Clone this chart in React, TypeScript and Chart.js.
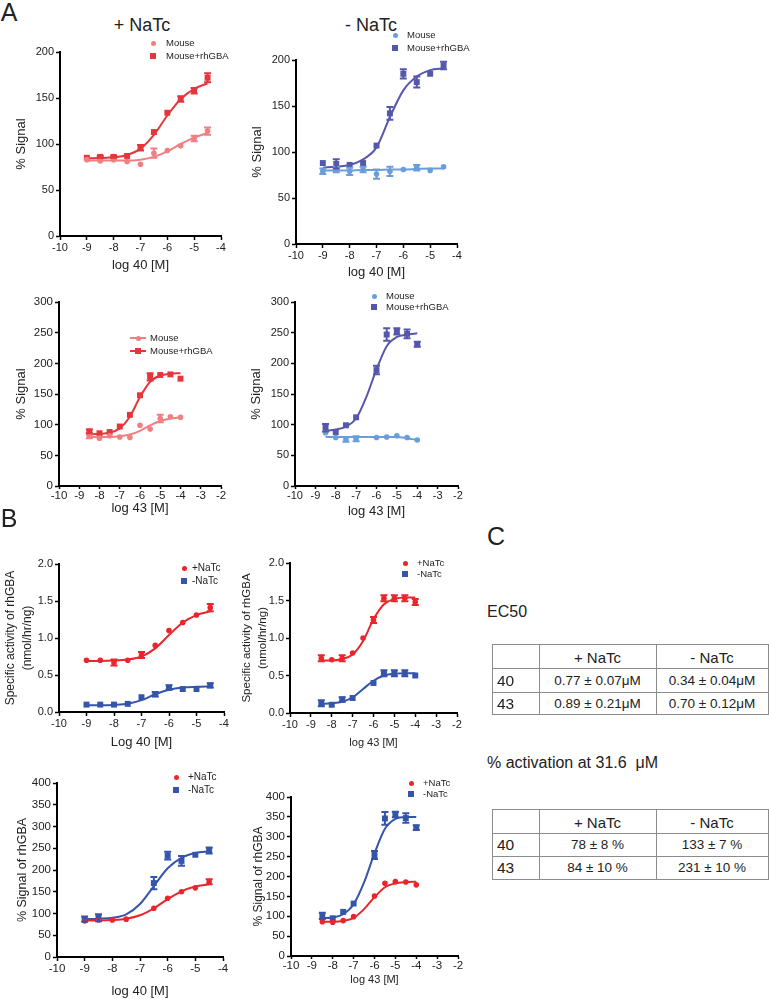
import React, { useEffect, useRef } from 'react';
import { Chart, registerables } from 'chart.js';

Chart.register(...registerables);

const FONT = '"Liberation Sans", Arial, Helvetica, sans-serif';
const TEXT = '#222';

// ---------- x values (log concentration) ----------
const X40 = [-9, -8.5, -8, -7.5, -7, -6.5, -6, -5.5, -5, -4.5];
const X43 = [-8.5, -8, -7.5, -7, -6.5, -6, -5.5, -5, -4.5, -4];

// ---------- Panel A, compound 40, + NaTc ----------
const a1MouseY = [83, 81.5, 83, 81, 78, 90, 93, 98, 106, 114];
const a1MouseErr = [0, 0, 0, 0, 0, 5, 0, 0, 3, 4];
const a1MouseFit = [82, 82, 82, 82, 83, 86, 92, 100, 107, 112];
const a1RhY = [85, 86, 86, 87, 96, 113, 134, 149, 158, 172];
const a1RhErr = [0, 1, 1, 0, 3, 0, 0, 3, 3, 5];
const a1RhFit = [84.5, 84.8, 85.5, 88, 95, 110, 131, 149, 160, 166];

// ---------- Panel A, compound 40, - NaTc ----------
const a2MouseY = [79, 81, 79, 81, 76, 79, 81, 83, 80, 84];
const a2MouseErr = [3, 3, 4, 3, 5, 5, 0, 3, 0, 0];
const a2MouseFit = [80, 80, 80, 80.5, 80.5, 81, 81, 81.5, 82, 82];
const a2RhY = [88, 87, 86, 88, 107, 142, 185, 176, 185, 194];
const a2RhErr = [0, 5, 0, 0, 0, 7, 5, 6, 0, 4];
const a2RhFit = [83, 84, 86, 92, 105, 138, 167, 182, 189, 191];

// ---------- Panel A, compound 43, + NaTc ----------
const a3MouseY = [81, 78, 82, 80, 79, 99, 93, 110, 113, 112];
const a3MouseErr = [3, 0, 0, 0, 0, 0, 0, 6, 0, 0];
const a3MouseFit = [80, 80, 80, 81, 84, 90, 99, 106, 110, 112];
const a3RhY = [89, 86, 88, 97, 116, 148, 178, 181, 182, 175];
const a3RhErr = [3, 0, 0, 0, 0, 0, 6, 0, 0, 0];
const a3RhFit = [84, 85, 87, 94, 113, 145, 170, 180, 183, 184];

// ---------- Panel A, compound 43, - NaTc ----------
const a4MouseY = [87, 79, 76, 77, null, 79, 80, 82, 79, 75];
const a4MouseErr = [0, 0, 4, 4, 0, 0, 0, 0, 0, 0];
const a4MouseFit = [80, 80, 80, 80, 80, 80, 80, 80, 78, 75];
const a4RhY = [95, 88, 99, 112, null, 189, 247, 252, 248, 231];
const a4RhErr = [6, 0, 0, 0, 0, 7, 10, 5, 7, 4];
const a4RhFit = [90, 92, 97, 110, 145, 190, 228, 243, 247, 249];

// ---------- Panel B, specific activity, compound 40 ----------
const b1PlusY = [0.7, 0.7, 0.67, 0.7, 0.77, 0.9, 1.1, 1.21, 1.31, 1.41];
const b1PlusErr = [0, 0, 0.04, 0, 0.04, 0, 0, 0, 0, 0.05];
const b1PlusFit = [0.69, 0.69, 0.695, 0.71, 0.75, 0.86, 1.04, 1.21, 1.31, 1.36];
const b1MinusY = [0.1, 0.1, 0.1, 0.11, 0.2, 0.24, 0.33, 0.31, 0.31, 0.36];
const b1MinusErr = [0, 0, 0, 0, 0, 0.03, 0.03, 0, 0, 0.03];
const b1MinusFit = [0.09, 0.09, 0.095, 0.11, 0.16, 0.24, 0.3, 0.33, 0.34, 0.345];

// ---------- Panel B, specific activity, compound 43 ----------
const b2PlusY = [0.73, 0.71, 0.73, 0.8, 1.0, 1.24, 1.53, 1.53, 1.53, 1.48];
const b2PlusErr = [0.04, 0, 0.04, 0, 0, 0.04, 0.04, 0.04, 0.04, 0.04];
const b2PlusFit = [0.7, 0.7, 0.72, 0.78, 0.96, 1.25, 1.45, 1.52, 1.54, 1.54];
const b2MinusY = [0.13, 0.11, 0.18, 0.2, null, 0.4, 0.53, 0.53, 0.53, 0.5];
const b2MinusErr = [0.04, 0, 0.03, 0, 0, 0, 0.04, 0.04, 0.04, 0];
const b2MinusFit = [0.12, 0.13, 0.15, 0.21, 0.32, 0.43, 0.5, 0.525, 0.53, 0.53];

// ---------- Panel B, % signal, compound 40 ----------
const b3PlusY = [83, 85, 85, 87, null, 112, 135, 150, 159, 173];
const b3PlusErr = [0, 0, 0, 0, 0, 0, 0, 0, 0, 6];
const b3PlusFit = [84, 84, 85, 88, 96, 112, 133, 151, 162, 167];
const b3MinusY = [87, 90, null, null, null, 170, 233, 221, 235, 245];
const b3MinusErr = [6, 8, 0, 0, 0, 14, 9, 11, 0, 7];
const b3MinusFit = [87, 88, 90, 98, 122, 163, 204, 228, 239, 243];

// ---------- Panel B, % signal, compound 43 ----------
const b4PlusY = [86, 85, 89, 99, null, 151, 183, 187, 186, 179];
const b4PlusErr = [0, 0, 0, 0, 0, 0, 0, 0, 0, 0];
const b4PlusFit = [86, 86, 88, 96, 118, 148, 173, 183, 186, 187];
const b4MinusY = [101, 95, 111, 132, null, 254, 346, 356, 347, 323];
const b4MinusErr = [8, 0, 0, 0, 0, 10, 16, 7, 12, 6];
const b4MinusFit = [95, 97, 105, 130, 185, 258, 320, 345, 350, 350];

// ---------- Panel C tables ----------
const tableHeader = ['', '+ NaTc', '- NaTc'];
const ec50Rows = [
  ['40', '0.77 ± 0.07μM', '0.34 ± 0.04μM'],
  ['43', '0.89 ± 0.21μM', '0.70 ± 0.12μM'],
];
const activationRows = [
  ['40', '78 ± 8 %', '133 ± 7 %'],
  ['43', '84 ± 10 %', '231 ± 10 %'],
];

// ---------- colours ----------
const C_PINK = '#f07f82';
const C_RED_A = '#e5363d';
const C_LBLUE = '#6a9ddb';
const C_PURPLE = '#5557aa';
const C_RED = '#e8262c';
const C_BLUE = '#3555ab';

type Series = {
  label: string;
  color: string;
  shape: 'circle' | 'rect';
  xs: number[];
  ys: (number | null)[];
  errs: number[];
  fit: number[];
};

type PanelCfg = {
  plot: [number, number, number, number];
  xMax: number;
  yMax: number;
  yStep: number;
  yDec: number;
  yTitle: string | string[];
  yTitleX: number;
  yTitleSize: number;
  yTitleLh?: number;
  xTitle: string;
  xTitleY: number;
  xTitleSize: number;
  tickSize: number;
  xTickLen?: number;
  xTickPad?: number;
  series: Series[];
};

const errorBarPlugin = {
  id: 'errorBars',
  afterDatasetsDraw(chart: any) {
    const ctx = chart.ctx;
    const ys = chart.scales.y;
    chart.data.datasets.forEach((ds: any, i: number) => {
      if (!ds.isPoints) return;
      const meta = chart.getDatasetMeta(i);
      ds.data.forEach((p: any, j: number) => {
        if (!p.e) return;
        const el = meta.data[j];
        if (!el) return;
        const x = el.x;
        const t = ys.getPixelForValue(p.y + p.e);
        const b = ys.getPixelForValue(p.y - p.e);
        ctx.save();
        ctx.strokeStyle = ds.backgroundColor;
        ctx.lineWidth = 2;
        ctx.beginPath();
        ctx.moveTo(x, t);
        ctx.lineTo(x, b);
        ctx.moveTo(x - 3.5, t);
        ctx.lineTo(x + 3.5, t);
        ctx.moveTo(x - 3.5, b);
        ctx.lineTo(x + 3.5, b);
        ctx.stroke();
        ctx.restore();
      });
    });
  },
};

function ChartPanel({ cfg }: { cfg: PanelCfg }) {
  const ref = useRef<HTMLCanvasElement>(null);
  const [pl, pt, pr, pb] = cfg.plot;
  const yLh = cfg.yTitleSize * (cfg.yTitleLh ?? 1.2);
  const left = Math.round(cfg.yTitleX - yLh / 2);
  const padTop = 12;
  const padRight = 16;
  const top = pt - padTop;
  const xLh = cfg.xTitleSize * 1.2;
  const xAxisH = Math.round(cfg.xTitleY + xLh / 2 - pb);
  const yAxisW = pl - left;
  const W = pr + padRight - left;
  const H = pb + xAxisH - top;

  useEffect(() => {
    if (!ref.current) return;
    const datasets: any[] = [];
    cfg.series.forEach((s) => {
      datasets.push({
        type: 'line',
        data: s.xs.map((x, i) => ({ x, y: s.fit[i] })),
        borderColor: s.color,
        backgroundColor: s.color,
        borderWidth: 2,
        pointRadius: 0,
        fill: false,
        cubicInterpolationMode: 'monotone',
        order: 2,
      });
    });
    cfg.series.forEach((s) => {
      const pts = s.xs
        .map((x, i) => ({ x, y: s.ys[i], e: s.errs[i] }))
        .filter((p) => p.y !== null && p.y !== undefined);
      datasets.push({
        type: 'scatter',
        isPoints: true,
        data: pts,
        backgroundColor: s.color,
        borderColor: s.color,
        borderWidth: 0,
        pointStyle: s.shape,
        pointRadius: s.shape === 'rect' ? 4.2 : 2.8,
        showLine: false,
        order: 1,
      });
    });
    const chart = new Chart(ref.current, {
      type: 'scatter',
      data: { datasets },
      plugins: [errorBarPlugin],
      options: {
        animation: false,
        responsive: false,
        maintainAspectRatio: false,
        events: [],
        layout: { padding: { top: padTop, right: padRight, left: 0, bottom: 0 } },
        plugins: { legend: { display: false }, tooltip: { enabled: false } },
        scales: {
          x: {
            type: 'linear',
            min: -10,
            max: cfg.xMax,
            afterFit: (s: any) => {
              s.height = xAxisH;
            },
            border: { display: true, color: '#000', width: 2 },
            grid: {
              display: true,
              drawOnChartArea: false,
              drawTicks: true,
              tickLength: cfg.xTickLen ?? 4,
              tickWidth: 1.5,
              tickColor: '#000',
            },
            ticks: {
              stepSize: 1,
              color: TEXT,
              font: { size: cfg.tickSize, family: FONT },
              padding: cfg.xTickPad ?? 1,
              maxRotation: 0,
              autoSkip: false,
              callback: (v: any) => String(v),
            },
            title: {
              display: true,
              text: cfg.xTitle,
              color: TEXT,
              font: { size: cfg.xTitleSize, family: FONT },
              padding: 0,
            },
          },
          y: {
            type: 'linear',
            min: 0,
            max: cfg.yMax,
            afterFit: (s: any) => {
              s.width = yAxisW;
            },
            border: { display: true, color: '#000', width: 2 },
            grid: {
              display: true,
              drawOnChartArea: false,
              drawTicks: true,
              tickLength: 4,
              tickWidth: 1.5,
              tickColor: '#000',
            },
            ticks: {
              stepSize: cfg.yStep,
              color: TEXT,
              font: { size: cfg.tickSize, family: FONT },
              padding: 2,
              callback: (v: any) => Number(v).toFixed(cfg.yDec),
            },
            title: {
              display: true,
              text: cfg.yTitle as any,
              color: TEXT,
              font: { size: cfg.yTitleSize, family: FONT, lineHeight: cfg.yTitleLh ?? 1.2 },
              padding: 0,
            },
          },
        },
      } as any,
    });
    return () => chart.destroy();
  }, []);

  return (
    <canvas
      ref={ref}
      width={W}
      height={H}
      style={{ position: 'absolute', left, top, width: W, height: H }}
    />
  );
}

function Label({ x, y, size, children, center = false }: any) {
  return (
    <div
      style={{
        position: 'absolute',
        left: x,
        top: y,
        fontSize: size,
        lineHeight: 1,
        color: TEXT,
        whiteSpace: 'pre',
        transform: center ? 'translate(-50%, -50%)' : 'translate(0, -50%)',
      }}
    >
      {children}
    </div>
  );
}

function LegendItem({ x, y, tx, color, shape, text, size, line = false }: any) {
  const m = shape === 'rect' ? 6 : 5;
  return (
    <>
      {line && (
        <div
          style={{
            position: 'absolute',
            left: x - 8,
            top: y - 1,
            width: 16,
            height: 2,
            background: color,
          }}
        />
      )}
      <div
        style={{
          position: 'absolute',
          left: x - m / 2,
          top: y - m / 2,
          width: m,
          height: m,
          background: color,
          borderRadius: shape === 'circle' ? '50%' : 0,
        }}
      />
      <Label x={tx} y={y} size={size}>
        {text}
      </Label>
    </>
  );
}

function Legend({ items, x, tx, ys, size, line = false }: any) {
  return (
    <>
      {items.map((s: Series, i: number) => (
        <LegendItem
          key={i}
          x={x}
          y={ys[i]}
          tx={tx}
          color={s.color}
          shape={s.shape}
          text={s.label}
          size={size}
          line={line}
        />
      ))}
    </>
  );
}

function Table({ cols, rows, header, body }: { cols: number[]; rows: number[]; header: string[]; body: string[][] }) {
  const lines: any[] = [];
  const lc = '#8c8c8c';
  rows.forEach((y, i) =>
    lines.push(
      <div key={'h' + i} style={{ position: 'absolute', left: cols[0], top: y, width: cols[cols.length - 1] - cols[0] + 1, height: 1, background: lc }} />
    )
  );
  cols.forEach((x, i) =>
    lines.push(
      <div key={'v' + i} style={{ position: 'absolute', left: x, top: rows[0], width: 1, height: rows[rows.length - 1] - rows[0], background: lc }} />
    )
  );
  const all = [header, ...body];
  const texts: any[] = [];
  all.forEach((r, ri) => {
    const cy = (rows[ri] + rows[ri + 1]) / 2 + 0.5;
    r.forEach((t, ci) => {
      if (!t) return;
      if (ci === 0) {
        texts.push(
          <Label key={ri + '-' + ci} x={cols[0] + 5} y={cy} size={15.5}>
            {t}
          </Label>
        );
      } else {
        texts.push(
          <Label key={ri + '-' + ci} x={(cols[ci] + cols[ci + 1]) / 2} y={cy} size={ri === 0 ? 15 : 13.5} center>
            {t}
          </Label>
        );
      }
    });
  });
  return (
    <>
      {lines}
      {texts}
    </>
  );
}

const sA1: Series[] = [
  { label: 'Mouse', color: C_PINK, shape: 'circle', xs: X40, ys: a1MouseY, errs: a1MouseErr, fit: a1MouseFit },
  { label: 'Mouse+rhGBA', color: C_RED_A, shape: 'rect', xs: X40, ys: a1RhY, errs: a1RhErr, fit: a1RhFit },
];
const sA2: Series[] = [
  { label: 'Mouse', color: C_LBLUE, shape: 'circle', xs: X40, ys: a2MouseY, errs: a2MouseErr, fit: a2MouseFit },
  { label: 'Mouse+rhGBA', color: C_PURPLE, shape: 'rect', xs: X40, ys: a2RhY, errs: a2RhErr, fit: a2RhFit },
];
const sA3: Series[] = [
  { label: 'Mouse', color: C_PINK, shape: 'circle', xs: X43, ys: a3MouseY, errs: a3MouseErr, fit: a3MouseFit },
  { label: 'Mouse+rhGBA', color: C_RED_A, shape: 'rect', xs: X43, ys: a3RhY, errs: a3RhErr, fit: a3RhFit },
];
const sA4: Series[] = [
  { label: 'Mouse', color: C_LBLUE, shape: 'circle', xs: X43, ys: a4MouseY, errs: a4MouseErr, fit: a4MouseFit },
  { label: 'Mouse+rhGBA', color: C_PURPLE, shape: 'rect', xs: X43, ys: a4RhY, errs: a4RhErr, fit: a4RhFit },
];
const sB1: Series[] = [
  { label: '+NaTc', color: C_RED, shape: 'circle', xs: X40, ys: b1PlusY, errs: b1PlusErr, fit: b1PlusFit },
  { label: '-NaTc', color: C_BLUE, shape: 'rect', xs: X40, ys: b1MinusY, errs: b1MinusErr, fit: b1MinusFit },
];
const sB2: Series[] = [
  { label: '+NaTc', color: C_RED, shape: 'circle', xs: X43, ys: b2PlusY, errs: b2PlusErr, fit: b2PlusFit },
  { label: '-NaTc', color: C_BLUE, shape: 'rect', xs: X43, ys: b2MinusY, errs: b2MinusErr, fit: b2MinusFit },
];
const sB3: Series[] = [
  { label: '+NaTc', color: C_RED, shape: 'circle', xs: X40, ys: b3PlusY, errs: b3PlusErr, fit: b3PlusFit },
  { label: '-NaTc', color: C_BLUE, shape: 'rect', xs: X40, ys: b3MinusY, errs: b3MinusErr, fit: b3MinusFit },
];
const sB4: Series[] = [
  { label: '+NaTc', color: C_RED, shape: 'circle', xs: X43, ys: b4PlusY, errs: b4PlusErr, fit: b4PlusFit },
  { label: '-NaTc', color: C_BLUE, shape: 'rect', xs: X43, ys: b4MinusY, errs: b4MinusErr, fit: b4MinusFit },
];

const panels: PanelCfg[] = [
  { plot: [60, 52, 221, 236], xMax: -4, yMax: 200, yStep: 50, yDec: 0, yTitle: '% Signal', yTitleX: 22, yTitleSize: 13, xTitle: 'log 40 [M]', xTitleY: 265, xTitleSize: 13, tickSize: 11, series: sA1 },
  { plot: [296, 60, 457, 244], xMax: -4, yMax: 200, yStep: 50, yDec: 0, yTitle: '% Signal', yTitleX: 258, yTitleSize: 13, xTitle: 'log 40 [M]', xTitleY: 272, xTitleSize: 13, tickSize: 11, series: sA2 },
  { plot: [59, 302, 221, 486], xMax: -2, yMax: 300, yStep: 50, yDec: 0, yTitle: '% Signal', yTitleX: 22, yTitleSize: 13, xTitle: 'log 43 [M]', xTitleY: 508, xTitleSize: 13, tickSize: 11.5, xTickLen: 3, xTickPad: 0, series: sA3 },
  { plot: [295, 302, 458, 486], xMax: -2, yMax: 300, yStep: 50, yDec: 0, yTitle: '% Signal', yTitleX: 257, yTitleSize: 13, xTitle: 'log 43 [M]', xTitleY: 511, xTitleSize: 13, tickSize: 11, xTickLen: 3, xTickPad: 0, series: sA4 },
  { plot: [59, 564, 224, 712], xMax: -4, yMax: 2, yStep: 0.5, yDec: 1, yTitle: ['Specific activity of rhGBA', '(nmol/hr/ng)'], yTitleX: 10, yTitleSize: 12, yTitleLh: 1.4, xTitle: 'Log 40 [M]', xTitleY: 742, xTitleSize: 13, tickSize: 11, series: sB1 },
  { plot: [290, 563, 457, 713], xMax: -2, yMax: 2, yStep: 0.5, yDec: 1, yTitle: ['Specific activity of rhGBA', '(nmol/hr/ng)'], yTitleX: 247, yTitleSize: 11.5, yTitleLh: 1.4, xTitle: 'log 43 [M]', xTitleY: 743, xTitleSize: 11, tickSize: 11, series: sB2 },
  { plot: [57, 783, 223, 957], xMax: -4, yMax: 400, yStep: 50, yDec: 0, yTitle: '% Signal of rhGBA', yTitleX: 22, yTitleSize: 12.5, xTitle: 'log 40 [M]', xTitleY: 991, xTitleSize: 13, tickSize: 11.5, series: sB3 },
  { plot: [291, 797, 458, 956], xMax: -2, yMax: 400, yStep: 50, yDec: 0, yTitle: '% Signal of rhGBA', yTitleX: 258, yTitleSize: 12, xTitle: 'log 43 [M]', xTitleY: 980, xTitleSize: 11, tickSize: 11.5, xTickLen: 3, xTickPad: 0, series: sB4 },
];

export default function App() {
  return (
    <div
      style={{
        position: 'absolute',
        left: 0,
        top: 0,
        width: 769,
        height: 999,
        background: '#fff',
        overflow: 'hidden',
        fontFamily: FONT,
      }}
    >
      {panels.map((p, i) => (
        <ChartPanel key={i} cfg={p} />
      ))}

      <Label x={9} y={12} size={25} center>A</Label>
      <Label x={9} y={518} size={25} center>B</Label>
      <Label x={496} y={536} size={25} center>C</Label>
      <Label x={142} y={25} size={18} center>+ NaTc</Label>
      <Label x={371} y={25} size={18} center>- NaTc</Label>

      <Legend items={sA1} x={153} tx={166} ys={[43, 56]} size={9.5} />
      <Legend items={sA2} x={395} tx={407} ys={[35, 48]} size={9.5} />
      <Legend items={sA3} x={138} tx={150} ys={[338, 351]} size={9.5} line />
      <Legend items={sA4} x={374} tx={386} ys={[296, 307]} size={9.5} />
      <Legend items={sB1} x={184} tx={192} ys={[568, 581]} size={10} />
      <Legend items={sB2} x={405} tx={417} ys={[563, 574]} size={9.5} />
      <Legend items={sB3} x={176} tx={188} ys={[777, 790]} size={10} />
      <Legend items={sB4} x={411} tx={423} ys={[783, 794]} size={9.5} />

      <Label x={487} y={612} size={16}>EC50</Label>
      <Table cols={[492, 539, 656, 768]} rows={[644, 668, 692, 714]} header={tableHeader} body={ec50Rows} />
      <Label x={487} y={763} size={16}>{'% activation at 31.6  μM'}</Label>
      <Table cols={[492, 539, 656, 768]} rows={[809, 833, 856, 879]} header={tableHeader} body={activationRows} />
    </div>
  );
}
